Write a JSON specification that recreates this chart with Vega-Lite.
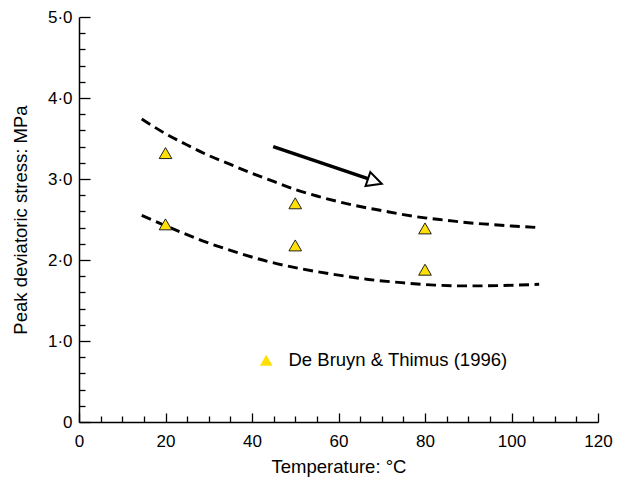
{
  "$schema": "https://vega.github.io/schema/vega-lite/v6.json",
  "width": 519,
  "height": 405,
  "autosize": {"type": "none"},
  "padding": {"left": 79, "top": 17, "right": 29, "bottom": 59},
  "config": {
    "view": {"stroke": null},
    "font": "Liberation Sans",
    "axis": {
      "grid": false,
      "labelFlush": false,
      "domainColor": "#000000",
      "domainWidth": 1.5,
      "tickColor": "#000000",
      "tickWidth": 1.3,
      "labelColor": "#000000",
      "titleColor": "#000000",
      "labelFont": "Liberation Sans",
      "titleFont": "Liberation Sans",
      "titleFontWeight": "normal",
      "labelFontSize": 17,
      "titleFontSize": 18.5
    }
  },
  "datasets": {
    "points": [
      {"T": 20, "S": 3.32, "source": "De Bruyn & Thimus (1996)"},
      {"T": 20, "S": 2.44, "source": "De Bruyn & Thimus (1996)"},
      {"T": 50, "S": 2.70, "source": "De Bruyn & Thimus (1996)"},
      {"T": 50, "S": 2.18, "source": "De Bruyn & Thimus (1996)"},
      {"T": 80, "S": 2.39, "source": "De Bruyn & Thimus (1996)"},
      {"T": 80, "S": 1.88, "source": "De Bruyn & Thimus (1996)"}
    ],
    "curves": [
      {"curve": "upper", "T": 14.5, "S": 3.74},
      {"curve": "upper", "T": 20, "S": 3.56},
      {"curve": "upper", "T": 25, "S": 3.42},
      {"curve": "upper", "T": 30, "S": 3.29},
      {"curve": "upper", "T": 35, "S": 3.18},
      {"curve": "upper", "T": 40, "S": 3.07},
      {"curve": "upper", "T": 45, "S": 2.97},
      {"curve": "upper", "T": 50, "S": 2.87},
      {"curve": "upper", "T": 55, "S": 2.79},
      {"curve": "upper", "T": 60, "S": 2.72},
      {"curve": "upper", "T": 65, "S": 2.66},
      {"curve": "upper", "T": 70, "S": 2.61},
      {"curve": "upper", "T": 75, "S": 2.56},
      {"curve": "upper", "T": 80, "S": 2.52},
      {"curve": "upper", "T": 85, "S": 2.49},
      {"curve": "upper", "T": 90, "S": 2.46},
      {"curve": "upper", "T": 95, "S": 2.44},
      {"curve": "upper", "T": 100, "S": 2.42},
      {"curve": "upper", "T": 106.6, "S": 2.40},
      {"curve": "lower", "T": 14.5, "S": 2.55},
      {"curve": "lower", "T": 20.6, "S": 2.41},
      {"curve": "lower", "T": 28.4, "S": 2.24},
      {"curve": "lower", "T": 36.1, "S": 2.10},
      {"curve": "lower", "T": 43.8, "S": 1.98},
      {"curve": "lower", "T": 51.5, "S": 1.89},
      {"curve": "lower", "T": 59.2, "S": 1.82},
      {"curve": "lower", "T": 66.9, "S": 1.76},
      {"curve": "lower", "T": 74.6, "S": 1.72},
      {"curve": "lower", "T": 82.3, "S": 1.69},
      {"curve": "lower", "T": 90.0, "S": 1.68},
      {"curve": "lower", "T": 97.7, "S": 1.685},
      {"curve": "lower", "T": 106.4, "S": 1.70}
    ],
    "arrowLine": [
      {"T": 44.9, "S": 3.40},
      {"T": 66.8, "S": 3.005}
    ],
    "arrowHead": [
      {"T": 68.4, "S": 2.97}
    ]
  },
  "layer": [
    {
      "data": {"name": "curves"},
      "mark": {"type": "line", "color": "#000000", "strokeWidth": 2.9, "strokeDash": [10, 5.5], "interpolate": "monotone"},
      "encoding": {
        "x": {"field": "T", "type": "quantitative", "scale": {"domain": [0, 120], "nice": false},
          "axis": {"orient": "bottom", "values": [5, 10, 15, 25, 30, 35, 45, 50, 55, 65, 70, 75, 85, 90, 95, 105, 110, 115], "tickSize": -6, "labels": false, "domain": false, "title": null}},
        "y": {"field": "S", "type": "quantitative", "scale": {"domain": [0, 5], "nice": false},
          "axis": {"orient": "left", "values": [0.2, 0.4, 0.6, 0.8, 1.2, 1.4, 1.6, 1.8, 2.2, 2.4, 2.6, 2.8, 3.2, 3.4, 3.6, 3.8, 4.2, 4.4, 4.6, 4.8], "tickSize": -6, "labels": false, "domain": false, "title": null}},
        "detail": {"field": "curve", "type": "nominal"}
      }
    },
    {
      "data": {"name": "arrowLine"},
      "mark": {"type": "line", "color": "#000000", "strokeWidth": 3.5},
      "encoding": {
        "x": {"field": "T", "type": "quantitative", "axis": null},
        "y": {"field": "S", "type": "quantitative", "axis": null}
      }
    },
    {
      "data": {"name": "arrowHead"},
      "mark": {"type": "point", "shape": "M 1 0 L -1 -1 L -1 1 Z", "size": 213, "angle": 19, "filled": true, "fill": "#ffffff", "stroke": "#000000", "strokeWidth": 2, "opacity": 1},
      "encoding": {
        "x": {"field": "T", "type": "quantitative", "axis": null},
        "y": {"field": "S", "type": "quantitative", "axis": null}
      }
    },
    {
      "data": {"name": "points"},
      "mark": {"type": "point", "filled": true, "fill": "#ffe000", "stroke": "#222222", "strokeWidth": 1, "size": 160, "opacity": 1},
      "encoding": {
        "x": {"field": "T", "type": "quantitative", "title": "Temperature: °C",
          "axis": {"orient": "bottom", "values": [0, 20, 40, 60, 80, 100, 120], "tickSize": -9, "labelPadding": 20, "titlePadding": 8}},
        "y": {"field": "S", "type": "quantitative", "title": "Peak deviatoric stress: MPa",
          "axis": {"orient": "left", "values": [0, 1, 2, 3, 4, 5], "tickSize": -11, "labelPadding": 18, "titlePadding": 17,
            "labelExpr": "datum.value == 0 ? '0' : replace(format(datum.value, '.1f'), '.', '·')"}},
        "shape": {"field": "source", "type": "nominal", "scale": {"range": ["triangle-up"]},
          "legend": {"title": null, "orient": "none", "legendX": 178, "legendY": 334, "padding": 0,
            "symbolFillColor": "#ffe000", "symbolStrokeColor": "#222222", "symbolStrokeWidth": 1, "symbolSize": 160,
            "labelFont": "Liberation Sans", "labelFontSize": 18.5, "labelColor": "#000000", "labelOffset": 13, "labelLimit": 0}}
      }
    }
  ],
  "resolve": {"axis": {"x": "independent", "y": "independent"}}
}
